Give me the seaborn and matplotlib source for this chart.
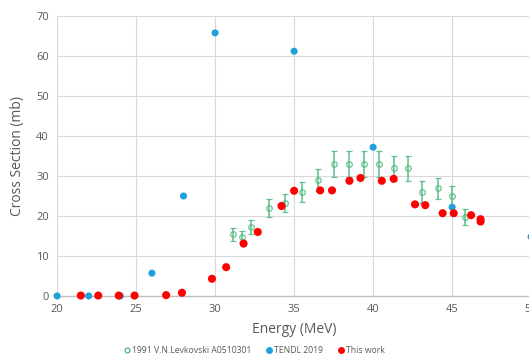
import pandas as pd
import matplotlib.pyplot as plt
import seaborn as sns
from matplotlib.lines import Line2D

# 1991 V.N.Levkovski A0510301
levk_energy = [31.1, 31.7, 32.3, 33.4, 34.4, 35.5, 36.5, 37.5, 38.5, 39.4, 40.4, 41.3, 42.2, 43.1, 44.1, 45.0, 45.8]
levk_xs = [15.4, 14.8, 17.3, 22.0, 23.2, 26.0, 29.0, 33.0, 33.0, 33.0, 33.0, 31.9, 31.9, 26.0, 26.9, 25.0, 19.8]
levk_err = [1.6, 1.4, 1.8, 2.3, 2.3, 2.6, 2.8, 3.3, 3.3, 3.3, 3.3, 3.2, 3.2, 2.7, 2.7, 2.6, 2.0]

# TENDL 2019
tendl_energy = [20, 22, 24, 26, 28, 30, 35, 40, 45, 50]
tendl_xs = [0, 0, 0, 5.7, 25.0, 65.8, 61.2, 37.2, 22.2, 14.8]

# This work
work_energy = [21.5, 22.6, 23.9, 24.9, 26.9, 27.9, 29.8, 30.7, 31.8, 32.7, 34.2, 35.0, 36.65, 37.4,
               38.5, 39.2, 40.55, 41.3, 42.65, 43.3, 44.4, 45.1, 46.2, 46.8, 46.8]
work_xs = [0.1, 0.1, 0.1, 0.1, 0.2, 0.8, 4.3, 7.2, 13.1, 16.0, 22.5, 26.3, 26.4, 26.4,
           28.8, 29.5, 28.8, 29.3, 22.9, 22.7, 20.7, 20.7, 20.2, 18.6, 19.2]

green = '#4DB87E'
blue = '#1FA2DC'
red = '#FF0000'
gray = '#595959'

sns.set_style('whitegrid')
plt.rcParams['font.family'] = ['Open Sans', 'DejaVu Sans']

fig = plt.figure(figsize=(5.29, 3.57), dpi=100)
ax = fig.add_axes([0.108, 0.171, 0.896, 0.784])

ax.errorbar(levk_energy, levk_xs, yerr=levk_err, fmt='o', mfc='none', mec=green, ecolor=green,
            ms=4, mew=0.9, elinewidth=1.2, capsize=2, capthick=1.0, zorder=2, alpha=0.85)

df_t = pd.DataFrame({'Energy': tendl_energy, 'XS': tendl_xs})
sns.scatterplot(data=df_t, x='Energy', y='XS', color=blue, s=26, edgecolor='none', ax=ax,
                zorder=3, clip_on=False)

df_w = pd.DataFrame({'Energy': work_energy, 'XS': work_xs})
sns.scatterplot(data=df_w, x='Energy', y='XS', color=red, s=34, edgecolor='none', ax=ax,
                zorder=4, clip_on=False)

ax.set_xlim(20, 50)
ax.set_ylim(0, 70)
ax.set_xticks(range(20, 51, 5))
ax.set_yticks(range(0, 71, 10))
ax.grid(True, color='#D9D9D9', linewidth=0.8)
for side in ['top', 'right', 'left']:
    ax.spines[side].set_visible(False)
ax.spines['bottom'].set_color('#BFBFBF')
ax.spines['bottom'].set_linewidth(1.0)
ax.tick_params(axis='both', colors=gray, labelsize=8, length=0, pad=6)
ax.set_xlabel('Energy (MeV)', color=gray, fontsize=10, labelpad=5)
ax.set_ylabel('Cross Section (mb)', color=gray, fontsize=10, labelpad=8)

handles = [
    Line2D([], [], marker='o', ls='none', mfc='none', mec=green, ms=3.5, mew=0.9),
    Line2D([], [], marker='o', ls='none', color=blue, ms=4),
    Line2D([], [], marker='o', ls='none', color=red, ms=4),
]
labels = ['1991 V.N.Levkovski A0510301', 'TENDL 2019', 'This work']
leg = fig.legend(handles, labels, loc='lower center', bbox_to_anchor=(0.48, 0.0), ncol=3,
                 frameon=False, fontsize=6.2, handletextpad=0.05, columnspacing=1.6,
                 handlelength=1.0, borderpad=0.1, borderaxespad=0.1)
for t in leg.get_texts():
    t.set_color(gray)

fig.savefig('out.png', dpi=100)
